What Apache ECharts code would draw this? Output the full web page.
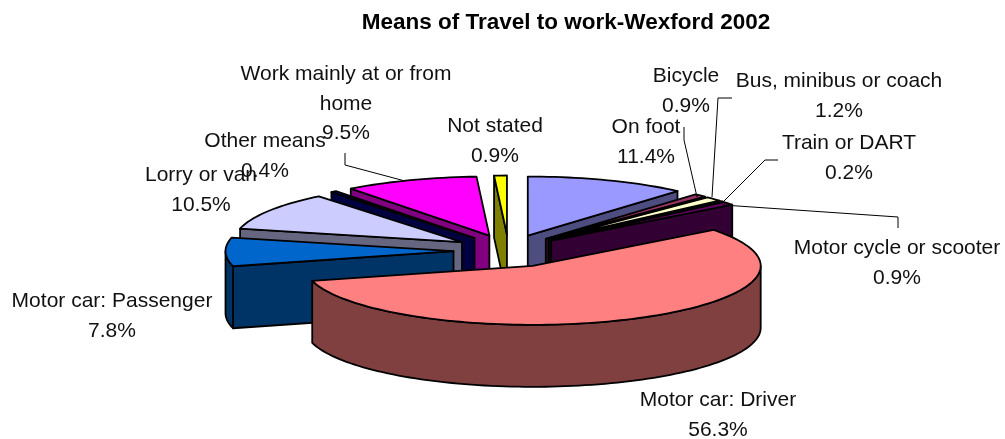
<!DOCTYPE html>
<html><head><meta charset="utf-8">
<style>html,body{margin:0;padding:0;background:#fff}#c{width:1005px;height:439px}</style>
<script src="https://cdn.jsdelivr.net/npm/echarts@6/dist/echarts.min.js"></script>
</head><body><div id="c"></div>
<script>
const categories = ['On foot','Bicycle','Bus, minibus or coach','Train or DART','Motor cycle or scooter','Motor car: Driver','Motor car: Passenger','Lorry or van','Other means','Work mainly at or from\nhome','Not stated'];
const shares = [11.4,0.9,1.2,0.2,0.9,56.3,7.8,10.5,0.4,9.5,0.9];
const sliceColors = ['#9999FF','#993366','#FFFFCC','#CCFFFF','#660066','#FF8080','#0066CC','#CCCCFF','#000080','#FF00FF','#FFFF00'];
const sideColors = ['#4D4D80','#4D1A33','#808066','#668080','#330033','#804040','#003366','#666680','#000040','#800080','#808000'];
// layout
const drawOrder = [10,0,1,2,3,4,9,8,7,6,5];
const PIE = {cx:508.5, cy:251, rx:228, ry:59, depth:62, ex:55, ey:16.5};
const labelAt = [[646,142],[686,91],[839,96],[849,158],[897,263],[718,415],[112,316],[201,190],[265,156],[346,104],[495,141]];
const leaders = [null,
 [[684,127],[684,140],[697,197]],
 [[732,98],[718,98],[712,197]],
 [[778,160],[765,160],[722,203]],
 [[898,228],[898,217],[723,205]],
 null,null,null,null,
 [[345,153],[345,165],[405,181]],
 null];

const starts = []; { let s=0; for (const v of shares){ starts.push(s); s+=v; } }
const rad = p => p/100*2*Math.PI;

function pt(c,a,z){ return [c[0]+PIE.rx*Math.sin(a), c[1]-PIE.ry*Math.cos(a)+(z||0)]; }
function arc(c,a,b,z){ const n=Math.max(2,Math.ceil(Math.abs(b-a)/0.03)),o=[]; for(let i=0;i<=n;i++)o.push(pt(c,a+(b-a)*i/n,z)); return o; }
const stroke = {stroke:'#000',lineWidth:1.8,lineJoin:'round'};
function poly(points,fill){ return {type:'polygon',shape:{points},style:Object.assign({fill},stroke)}; }

function renderSlice(params,api){
  const i = api.value(0);
  const a = rad(starts[i]), b = rad(starts[i]+shares[i]), m=(a+b)/2;
  const c = [PIE.cx+PIE.ex*Math.sin(m), PIE.cy-PIE.ey*Math.cos(m)];
  const d = PIE.depth, ch=[];
  const side = sideColors[i];
  if (Math.sin(b)>0){ const e=pt(c,b); ch.push(poly([c,e,[e[0],e[1]+d],[c[0],c[1]+d]],side)); }
  if (Math.sin(a)<0){ const e=pt(c,a); ch.push(poly([c,e,[e[0],e[1]+d],[c[0],c[1]+d]],side)); }
  const l2=Math.max(a,Math.PI/2), hi=Math.min(b,3*Math.PI/2);
  if (hi>l2){ const top=arc(c,l2,hi,0), bot=arc(c,l2,hi,d).reverse(); ch.push(poly(top.concat(bot),side)); }
  ch.push(poly([c].concat(arc(c,a,b,0)),sliceColors[i]));
  return {type:'group',children:ch};
}
function renderLabel(params,api){
  const i = api.value(0), ch=[];
  if (leaders[i]) ch.push({type:'polyline',shape:{points:leaders[i]},style:{stroke:'#000',lineWidth:1,fill:null}});
  ch.push({type:'text',x:labelAt[i][0],y:labelAt[i][1],style:{
    text:categories[i]+'\n'+shares[i].toFixed(1)+'%',font:'21px "Liberation Sans"',fill:'#111',
    align:'center',verticalAlign:'middle',lineHeight:29.5}});
  return {type:'group',children:ch};
}
const chart = echarts.init(document.getElementById('c'),null,{renderer:'canvas'});
chart.setOption({
  animation:false,
  backgroundColor:'#fff',
  title:{text:'Means of Travel to work-Wexford 2002',left:561,top:6,textAlign:'center',
    textStyle:{fontFamily:'Liberation Sans',fontWeight:'bold',fontSize:22.5,color:'#000'}},
  series:[
    {type:'custom',coordinateSystem:'none',silent:true,renderItem:renderSlice,z:2,
     data:drawOrder.map(i=>[i,shares[i]])},
    {type:'custom',coordinateSystem:'none',silent:true,renderItem:renderLabel,z:3,
     data:shares.map((v,i)=>[i,v])}
  ]
});
</script></body></html>
